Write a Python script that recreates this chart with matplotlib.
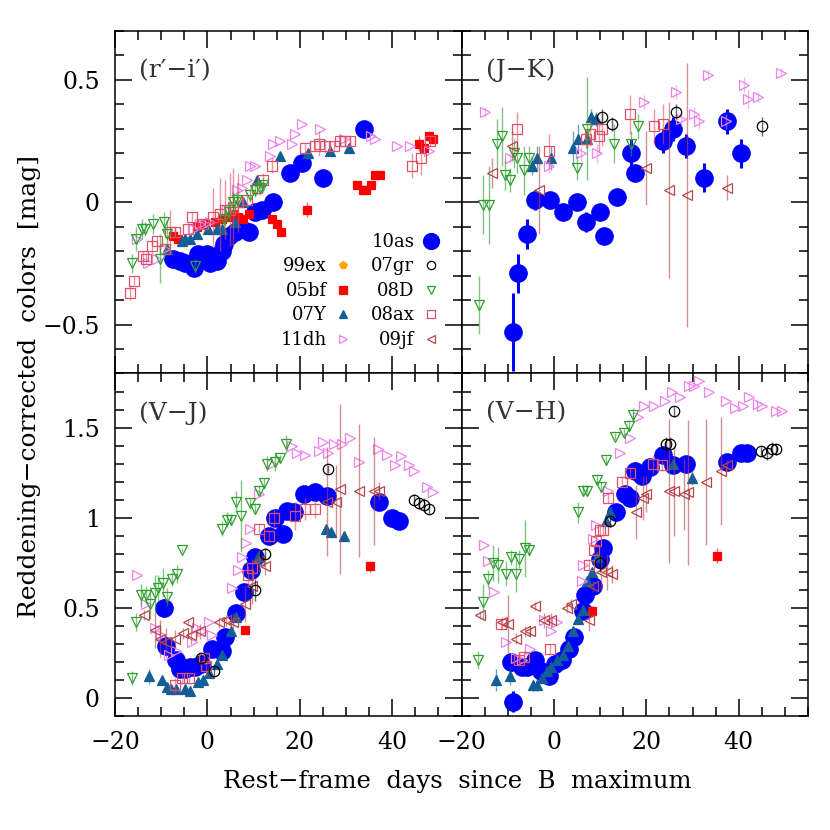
import matplotlib
matplotlib.use('Agg')
from matplotlib import pyplot as plt, rcParams
from matplotlib.lines import Line2D
from matplotlib.ticker import MultipleLocator, FuncFormatter

rcParams['font.family'] = 'DejaVu Serif'
rcParams['axes.linewidth'] = 1.1

# Data: (rest-frame days, colour, error) per SN and panel.
ri_10as = ([-7.4, -6.0, -4.8, -3.0, -2.0, -1.0, -0.1, 0.6, 1.3, 2.0, 3.1, 3.5, 4.6, 6.0, 7.4, 8.9, 10.3, 11.8, 14.3, 17.9, 20.4, 25.1, 33.8],
           [-0.23, -0.24, -0.25, -0.27, -0.21, -0.22, -0.21, -0.25, -0.23, -0.24, -0.20, -0.17, -0.14, -0.12, -0.11, -0.12, -0.04, -0.03, 0.00, 0.12, 0.16, 0.10, 0.30],
           None)
ri_05bf = ([-7.4, -6.3, -2.3, -0.5, 1.7, 3.1, 4.6, 5.6, 6.7, 7.8, 9.1, 14.0, 15.1, 15.9, 21.6, 32.4, 33.6, 34.4, 35.4, 36.3, 37.3, 45.7, 46.8, 47.9, 48.8],
           [-0.14, -0.15, -0.10, -0.09, -0.08, -0.07, -0.06, -0.05, -0.06, -0.07, -0.05, -0.07, -0.09, -0.12, -0.03, 0.07, 0.05, 0.05, 0.07, 0.11, 0.11, 0.24, 0.22, 0.27, 0.26],
           [0.01, 0.01, 0.01, 0.01, 0.01, 0.01, 0.01, 0.01, 0.01, 0.01, 0.01, 0.01, 0.01, 0.01, 0.03, 0.01, 0.01, 0.01, 0.01, 0.01, 0.01, 0.03, 0.02, 0.02, 0.02])
ri_07y = ([-8.8, -5.5, -4.8, -3.7, -2.3, 0.2, 2.0, 3.1, 6.0, 7.8, 10.7, 15.8, 21.7, 26.6, 30.6],
          [-0.19, -0.16, -0.15, -0.15, -0.13, -0.11, -0.11, -0.11, -0.08, 0.00, 0.09, 0.19, 0.20, 0.21, 0.22],
          None)
ri_11dh = ([-15.3, -12.8, -11.0, -9.2, -3.0, -1.6, -0.5, 0.6, 4.2, 6.4, 7.4, 8.5, 9.2, 10.3, 13.6, 14.3, 15.8, 18.3, 19.0, 20.4, 24.4, 29.5, 35.3, 36.3, 41.0, 43.9, 47.9],
           [-0.15, -0.25, -0.23, -0.19, -0.11, -0.09, -0.09, -0.08, -0.03, 0.05, 0.06, 0.09, 0.15, 0.15, 0.19, 0.24, 0.25, 0.24, 0.28, 0.32, 0.30, 0.26, 0.27, 0.26, 0.23, 0.23, 0.21],
           None)
ri_08ax = ([-16.8, -15.9, -14.0, -13.2, -12.1, -11.0, -9.2, -8.1, -7.0, -4.1, -3.4, -0.9, 1.3, 2.7, 3.8, 4.9, 5.6, 6.7, 8.5, 10.7, 12.1, 13.9, 21.2, 23.3, 24.1, 25.5, 27.3, 28.8, 29.8, 30.9, 44.3, 46.2, 48.1],
           [-0.37, -0.32, -0.22, -0.23, -0.18, -0.16, -0.19, -0.12, -0.12, -0.11, -0.06, -0.09, -0.06, -0.05, -0.03, -0.03, -0.02, 0.00, 0.01, 0.06, 0.09, 0.15, 0.22, 0.23, 0.24, 0.23, 0.23, 0.25, 0.25, 0.25, 0.15, 0.18, 0.25],
           [0.03, 0.02, 0.02, 0.02, 0.03, 0.02, 0.02, 0.09, 0.02, 0.02, 0.02, 0.02, 0.12, 0.15, 0.12, 0.15, 0.16, 0.12, 0.03, 0.03, 0.03, 0.03, 0.02, 0.02, 0.05, 0.03, 0.02, 0.02, 0.02, 0.02, 0.05, 0.07, 0.02])
ri_08d = ([-16.4, -15.5, -14.2, -13.5, -11.7, -10.3, -9.5, -8.8, -2.7, 3.5, 4.6, 5.6, 6.4, 9.2, 10.3, 11.4, 12.1],
          [-0.25, -0.15, -0.11, -0.11, -0.09, -0.23, -0.08, -0.13, -0.26, -0.07, -0.04, 0.00, 0.01, 0.03, 0.05, 0.06, 0.07],
          [0.04, 0.05, 0.04, 0.03, 0.04, 0.10, 0.04, 0.06, 0.03, 0.04, 0.04, 0.04, 0.03, 0.03, 0.03, 0.03, 0.03])

jk_10as = ([-8.8, -7.8, -5.8, -4.0, -0.9, 2.0, 4.9, 7.0, 10.0, 10.9, 13.6, 16.6, 17.5, 23.7, 25.7, 28.6, 32.5, 37.5, 40.4],
           [-0.53, -0.29, -0.13, 0.01, 0.01, -0.04, 0.00, -0.08, -0.04, -0.14, 0.02, 0.20, 0.12, 0.25, 0.30, 0.23, 0.10, 0.33, 0.20],
           [0.16, 0.08, 0.06, 0.04, 0.03, 0.03, 0.03, 0.04, 0.03, 0.03, 0.02, 0.06, 0.03, 0.05, 0.05, 0.05, 0.06, 0.05, 0.06])
jk_07y = ([-4.7, -3.6, -0.7, 4.2, 5.2, 7.1, 8.0, 9.1],
          [0.15, 0.18, 0.18, 0.22, 0.26, 0.26, 0.35, 0.34],
          [0.04, 0.05, 0.05, 0.07, 0.06, 0.04, 0.03, 0.03])
jk_08ax = ([-8.0, -1.1, 6.9, 7.8, 9.8, 10.5, 16.5, 21.6, 23.6],
           [0.30, 0.21, 0.26, 0.28, 0.27, 0.30, 0.36, 0.31, 0.32],
           [0.07, 0.07, 0.04, 0.05, 0.07, 0.07, 0.08, 0.07, 0.08])
jk_08d = ([-16.3, -15.4, -14.1, -12.3, -11.2, -10.5, -9.4, -8.7, -8.0, -6.5, -5.4, 5.1, 7.2, 13.0, 16.7, 18.1],
          [-0.42, -0.01, -0.01, 0.24, 0.27, 0.11, 0.09, 0.20, 0.18, 0.13, 0.18, 0.14, 0.30, 0.24, 0.24, 0.31],
          [0.12, 0.12, 0.16, 0.10, 0.12, 0.06, 0.05, 0.06, 0.06, 0.10, 0.05, 0.05, 0.21, 0.08, 0.05, 0.05])
jk_09jf = ([-13.4, -9.1, -3.3, 19.9, 24.9, 28.8, 37.5],
           [0.12, 0.23, 0.05, 0.14, 0.05, 0.03, 0.06],
           [0.06, 0.06, 0.18, 0.15, 0.36, 0.54, 0.05])
jk_11dh = ([-14.9, -9.4, -1.1, 5.9, 9.3, 19.4, 26.4, 27.5, 30.3, 31.4, 33.3, 37.3, 41.2, 42.0, 44.2, 49.1],
           [0.37, 0.18, 0.15, 0.20, 0.20, 0.41, 0.45, 0.34, 0.36, 0.33, 0.52, 0.33, 0.48, 0.42, 0.43, 0.53],
           [0.02, 0.02, 0.03, 0.03, 0.04, 0.03, 0.03, 0.03, 0.03, 0.03, 0.02, 0.03, 0.03, 0.04, 0.02, 0.02])
jk_07gr = ([10.5, 12.5, 26.4, 45.1],
           [0.35, 0.32, 0.37, 0.31],
           [0.03, 0.03, 0.03, 0.04])

vj_10as = ([-9.5, -8.9, -6.9, -5.9, -4.8, -3.7, -2.7, -1.3, 1.0, 3.2, 3.9, 6.1, 7.9, 9.5, 10.4, 13.3, 14.7, 16.4, 17.3, 18.7, 20.9, 23.3, 25.8, 37.1, 40.0, 41.5],
           [0.50, 0.29, 0.21, 0.16, 0.16, 0.17, 0.17, 0.19, 0.27, 0.26, 0.34, 0.47, 0.59, 0.71, 0.78, 0.90, 1.00, 0.91, 1.04, 1.03, 1.13, 1.14, 1.12, 1.09, 1.00, 0.98],
           [0.05, 0.03, 0.03, 0.02, 0.02, 0.02, 0.02, 0.02, 0.02, 0.02, 0.02, 0.02, 0.02, 0.02, 0.02, 0.02, 0.02, 0.03, 0.02, 0.02, 0.02, 0.02, 0.02, 0.02, 0.02, 0.02])
vj_07y = ([-12.6, -9.8, -8.7, -7.8, -6.8, -4.8, -3.7, -2.0, -1.0, 0.3, 2.1, 3.2, 5.0, 6.2, 10.9, 25.6, 26.7, 29.6],
          [0.12, 0.10, 0.06, 0.05, 0.05, 0.05, 0.04, 0.09, 0.10, 0.14, 0.19, 0.24, 0.37, 0.45, 0.78, 0.94, 0.92, 0.90],
          [0.04, 0.02, 0.02, 0.02, 0.02, 0.02, 0.02, 0.02, 0.02, 0.02, 0.02, 0.02, 0.02, 0.02, 0.02, 0.02, 0.02, 0.02])
vj_05bf = ([8.1, 35.1], [0.38, 0.73], [0.02, 0.03])
vj_08d = ([-16.3, -15.5, -14.3, -13.4, -12.4, -11.4, -10.7, -9.7, -8.7, -7.7, -6.6, -5.6, 3.2, 4.3, 5.2, 6.1, 7.2, 9.2, 10.3, 11.1, 12.2, 12.9, 14.7, 15.8, 16.9],
          [0.11, 0.42, 0.57, 0.57, 0.52, 0.58, 0.61, 0.64, 0.56, 0.66, 0.69, 0.82, 0.94, 0.99, 0.99, 1.09, 1.01, 1.08, 1.05, 1.15, 1.19, 1.30, 1.31, 1.33, 1.41],
          [0.04, 0.05, 0.06, 0.05, 0.08, 0.10, 0.07, 0.08, 0.05, 0.04, 0.05, 0.01, 0.04, 0.04, 0.03, 0.06, 0.20, 0.03, 0.03, 0.03, 0.03, 0.04, 0.05, 0.02, 0.05])
vj_11dh = ([-15.2, -13.4, -11.3, -10.0, -8.4, -6.9, -3.3, -2.2, -1.2, 0.3, 1.0, 5.3, 6.6, 7.4, 8.4, 9.2, 11.1, 14.0, 18.4, 19.4, 21.2, 24.1, 25.0, 26.2, 27.4, 29.2, 30.8, 32.9, 37.0, 38.9, 40.6, 41.8, 43.6, 44.7, 47.6, 48.8],
           [0.68, 0.52, 0.39, 0.35, 0.24, 0.26, 0.31, 0.39, 0.37, 0.42, 0.35, 0.61, 0.71, 0.78, 0.86, 0.94, 1.13, 1.30, 1.40, 1.36, 1.35, 1.37, 1.42, 1.36, 1.41, 1.41, 1.44, 1.31, 1.38, 1.35, 1.29, 1.34, 1.29, 1.26, 1.17, 1.14],
           None)
vj_08ax = ([-7.1, -5.6, -4.0, -0.8, -0.4, 8.7, 9.7, 11.1, 13.3, 14.4, 18.9, 21.1, 23.2],
           [0.07, 0.11, 0.11, 0.22, 0.18, 0.68, 0.72, 0.94, 0.90, 1.00, 1.01, 1.05, 1.05],
           [0.04, 0.03, 0.03, 0.03, 0.06, 0.05, 0.05, 0.03, 0.03, 0.05, 0.08, 0.06, 0.05])
vj_09jf = ([-13.8, -11.3, -10.2, -8.9, -7.1, -5.3, -4.2, -3.5, -1.7, 2.6, 4.0, 5.5, 8.2, 9.7, 11.1, 12.4, 25.9, 27.9, 28.6, 32.8, 36.1, 37.1],
           [0.46, 0.38, 0.33, 0.31, 0.33, 0.36, 0.42, 0.35, 0.37, 0.42, 0.43, 0.42, 0.52, 0.62, 0.76, 0.73, 1.09, 1.09, 1.16, 1.15, 1.15, 1.15],
           [0.03, 0.10, 0.10, 0.08, 0.05, 0.03, 0.02, 0.05, 0.04, 0.03, 0.03, 0.05, 0.10, 0.10, 0.06, 0.05, 0.30, 0.20, 0.47, 0.37, 0.30, 0.05])
vj_07gr = ([-1.5, 1.5, 10.3, 12.4, 26.2, 44.7, 45.7, 46.9, 48.0],
           [0.22, 0.15, 0.60, 0.80, 1.27, 1.10, 1.08, 1.07, 1.05],
           [0.03, 0.03, 0.06, 0.03, 0.02, 0.03, 0.03, 0.04, 0.03])

vh_10as = ([-9.2, -8.8, -7.0, -5.8, -4.1, -2.7, -1.0, 0.2, 1.7, 3.3, 4.3, 6.2, 6.7, 8.4, 10.0, 10.7, 13.5, 15.4, 16.5, 17.6, 19.1, 20.7, 23.6, 25.8, 28.6, 37.4, 40.4, 41.9],
           [0.20, -0.02, 0.17, 0.17, 0.21, 0.15, 0.12, 0.19, 0.21, 0.27, 0.34, 0.48, 0.57, 0.62, 0.77, 0.83, 1.03, 1.13, 1.11, 1.26, 1.23, 1.28, 1.35, 1.29, 1.30, 1.31, 1.36, 1.36],
           [0.05, 0.06, 0.02, 0.02, 0.02, 0.02, 0.02, 0.02, 0.02, 0.02, 0.02, 0.02, 0.02, 0.02, 0.03, 0.02, 0.02, 0.02, 0.02, 0.05, 0.02, 0.02, 0.03, 0.02, 0.02, 0.03, 0.02, 0.02])
vh_07y = ([-12.6, -9.6, -4.5, -3.6, -2.5, -1.6, -0.7, 0.7, 2.0, 3.1, 4.2, 5.3, 6.2, 7.1, 8.2, 9.3, 11.3, 12.2, 25.8, 29.9],
          [0.10, 0.12, 0.07, 0.07, 0.11, 0.15, 0.17, 0.21, 0.24, 0.29, 0.37, 0.44, 0.49, 0.65, 0.70, 0.78, 0.98, 1.03, 1.30, 1.22],
          [0.06, 0.05, 0.03, 0.03, 0.02, 0.02, 0.02, 0.02, 0.02, 0.02, 0.02, 0.02, 0.02, 0.02, 0.02, 0.02, 0.02, 0.02, 0.02, 0.04])
vh_05bf = ([8.2, 35.4], [0.48, 0.79], [0.03, 0.04])
vh_08d = ([-16.4, -15.4, -14.3, -13.2, -12.1, -10.4, -9.3, -8.3, -7.5, -6.3, -5.4, 5.3, 6.2, 7.2, 9.3, 10.1, 11.3, 13.3, 15.1, 16.2, 17.1],
          [0.21, 0.53, 0.66, 0.75, 0.74, 0.69, 0.78, 0.69, 0.77, 0.83, 0.82, 1.03, 1.15, 1.15, 1.21, 1.17, 1.32, 1.45, 1.47, 1.51, 1.57],
          [0.05, 0.10, 0.05, 0.10, 0.10, 0.07, 0.04, 0.10, 0.05, 0.16, 0.03, 0.06, 0.03, 0.03, 0.03, 0.03, 0.02, 0.02, 0.02, 0.03, 0.04])
vh_11dh = ([-15.2, -14.3, -13.0, -10.3, -8.3, -7.0, -5.2, -2.1, -0.7, 0.7, 6.0, 6.4, 8.4, 9.1, 11.8, 14.3, 16.5, 18.3, 19.4, 21.6, 24.1, 25.6, 27.2, 29.2, 30.3, 31.4, 33.6, 37.2, 39.1, 41.0, 42.2, 44.1, 45.1, 48.0, 49.3],
           [0.85, 0.76, 0.59, 0.31, 0.22, 0.21, 0.27, 0.43, 0.37, 0.42, 0.65, 0.74, 0.88, 0.96, 1.15, 1.36, 1.44, 1.56, 1.62, 1.62, 1.65, 1.70, 1.67, 1.73, 1.73, 1.76, 1.70, 1.65, 1.61, 1.62, 1.67, 1.63, 1.62, 1.59, 1.59],
           None)
vh_08ax = ([-11.4, -7.5, -6.4, -0.9, 7.5, 8.6, 9.1, 10.0, 10.6, 11.8, 14.7, 16.5, 21.4, 23.4],
           [0.41, 0.21, 0.23, 0.27, 0.74, 0.82, 0.87, 0.93, 0.93, 1.11, 1.20, 1.25, 1.30, 1.29],
           [0.03, 0.03, 0.03, 0.03, 0.03, 0.03, 0.03, 0.03, 0.03, 0.03, 0.03, 0.03, 0.05, 0.03])
vh_09jf = ([-16.1, -11.2, -9.9, -8.3, -6.3, -5.2, -4.1, -2.2, -0.7, 2.8, 3.6, 7.5, 8.4, 10.1, 11.4, 12.5, 17.8, 19.3, 20.0, 24.9, 25.9, 28.1, 29.0, 33.0, 36.2, 37.5],
           [0.46, 0.42, 0.41, 0.33, 0.37, 0.37, 0.51, 0.43, 0.43, 0.50, 0.52, 0.43, 0.62, 0.70, 0.70, 0.69, 1.03, 1.11, 1.13, 1.15, 1.15, 1.13, 1.14, 1.20, 1.26, 1.29],
           [0.02, 0.03, 0.16, 0.03, 0.03, 0.03, 0.02, 0.04, 0.04, 0.03, 0.03, 0.06, 0.03, 0.10, 0.10, 0.05, 0.15, 0.12, 0.10, 0.40, 0.25, 0.20, 0.40, 0.35, 0.30, 0.03])
vh_07gr = ([10.0, 12.2, 24.3, 25.1, 25.9, 44.8, 46.2, 47.1, 48.0],
           [0.75, 0.98, 1.41, 1.41, 1.59, 1.37, 1.36, 1.38, 1.38],
           [0.05, 0.03, 0.04, 0.04, 0.03, 0.03, 0.04, 0.04, 0.03])

PANELS = [
    ('(r′−i′)', (-0.7, 0.7), {'10as': ri_10as, '05bf': ri_05bf, '07Y': ri_07y, '11dh': ri_11dh, '08ax': ri_08ax, '08D': ri_08d}),
    ('(J−K)', (-0.7, 0.7), {'10as': jk_10as, '07Y': jk_07y, '11dh': jk_11dh, '08ax': jk_08ax, '08D': jk_08d, '09jf': jk_09jf, '07gr': jk_07gr}),
    ('(V−J)', (-0.1, 1.8), {'10as': vj_10as, '05bf': vj_05bf, '07Y': vj_07y, '11dh': vj_11dh, '08ax': vj_08ax, '08D': vj_08d, '09jf': vj_09jf, '07gr': vj_07gr}),
    ('(V−H)', (-0.1, 1.8), {'10as': vh_10as, '05bf': vh_05bf, '07Y': vh_07y, '11dh': vh_11dh, '08ax': vh_08ax, '08D': vh_08d, '09jf': vh_09jf, '07gr': vh_07gr}),
]

# marker, colour, filled, marker size
STYLES = {
    '10as': ('o', '#0000ff', True, 12.5),
    '99ex': ('p', '#ffa500', True, 7),
    '05bf': ('s', '#ff0000', True, 6),
    '07Y': ('^', '#135e96', True, 7),
    '11dh': ('>', '#ee82ee', False, 7),
    '07gr': ('o', '#000000', False, 7.5),
    '08D': ('v', '#2e9e2e', False, 7),
    '08ax': ('s', '#e0506a', False, 6.5),
    '09jf': ('<', '#b5474b', False, 7),
}
DRAW_ORDER = ['10as', '05bf', '07Y', '11dh', '08ax', '08D', '09jf', '07gr']


def fmt_tick(v, pos):
    v = round(v, 3)
    if v == 0:
        return '0'
    return f'{v:g}'.replace('-', '−')


fig = plt.figure(figsize=(8.3, 8.3), dpi=100)
gs = fig.add_gridspec(2, 2, left=0.1386, right=0.9735, bottom=0.1373, top=0.9627,
                      hspace=0, wspace=0)
axes = gs.subplots(sharex=True, sharey='row')

for ax, (label, ylim, series) in zip(axes.flat, PANELS):
    for sn in DRAW_ORDER:
        if sn not in series:
            continue
        t, c, e = series[sn]
        marker, color, filled, ms = STYLES[sn]
        z = 2 if sn == '10as' else 3
        if e is not None:
            ax.errorbar(t, c, yerr=e, fmt='none', ecolor=color,
                        elinewidth=2.2 if sn == '10as' else 1.0,
                        alpha=1.0 if sn == '10as' else 0.6, zorder=z)
        ax.plot(t, c, linestyle='none', marker=marker, ms=ms, mec=color,
                mfc=color if filled else 'none', mew=0.9, zorder=z)
    ax.text(0.07, 0.885, label, transform=ax.transAxes, fontsize=18,
            color='#333333', va='center', ha='left')
    ax.set_xlim(-20, 55)
    ax.set_ylim(*ylim)
    ax.xaxis.set_major_locator(MultipleLocator(20))
    ax.xaxis.set_minor_locator(MultipleLocator(5))
    ax.yaxis.set_major_locator(MultipleLocator(0.5))
    ax.yaxis.set_minor_locator(MultipleLocator(0.1))
    ax.xaxis.set_major_formatter(FuncFormatter(fmt_tick))
    ax.yaxis.set_major_formatter(FuncFormatter(fmt_tick))
    ax.tick_params(which='both', direction='in', top=True, right=True,
                   width=1.1, labelsize=17, pad=11)
    ax.tick_params(which='major', length=12.5)
    ax.tick_params(which='minor', length=6.5)
    ax.label_outer()

handles, labels = [], []
legend_cols = [['', '99ex', '05bf', '07Y', '11dh'], ['10as', '07gr', '08D', '08ax', '09jf']]
for col in legend_cols:
    for sn in col:
        if sn == '':
            handles.append(Line2D([], [], linestyle='none'))
            labels.append('')
            continue
        marker, color, filled, ms = STYLES[sn]
        handles.append(Line2D([], [], linestyle='none', marker=marker,
                              ms=11.5 if sn == '10as' else 6, mec=color,
                              mfc=color if filled else 'none', mew=0.9))
        labels.append(sn)
axes[0, 0].legend(handles, labels, ncol=2, markerfirst=False, frameon=False,
                  fontsize=13, loc='lower right', bbox_to_anchor=(0.968, 0.04),
                  handlelength=1.0, handletextpad=0.4, columnspacing=1.0,
                  labelspacing=0.36, borderaxespad=0.2)

fig.text(0.551, 0.058, 'Rest−frame  days  since  B  maximum',
         ha='center', va='center', fontsize=17.5)
fig.text(0.036, 0.534, 'Reddening−corrected  colors  [mag]', ha='center', va='center',
         rotation=90, fontsize=18)

fig.savefig('out.png', dpi=100)
